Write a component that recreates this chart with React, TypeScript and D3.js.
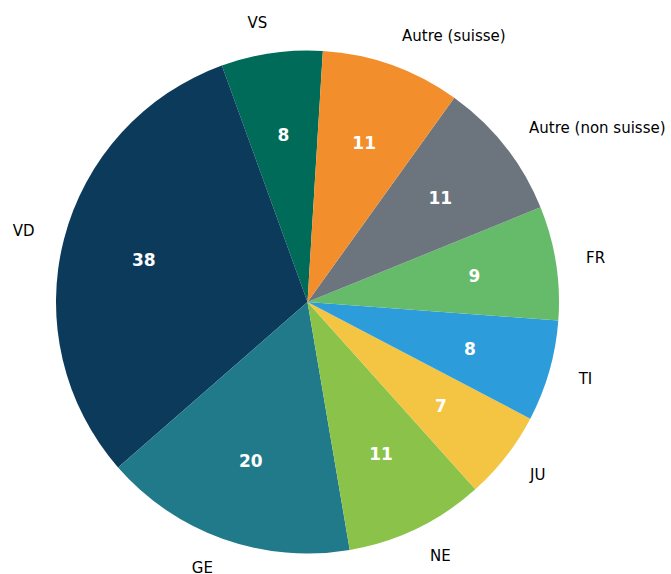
import React from "react";
import * as d3 from "d3";

const categories = ["VS", "VD", "GE", "NE", "JU", "TI", "FR", "Autre (non suisse)", "Autre (suisse)"];
const values = [8, 38, 20, 11, 7, 8, 9, 11, 11];
const colors = ["#016b59", "#0c3a5b", "#207a8a", "#8bc34a", "#f4c542", "#2d9cdb", "#66bb6a", "#6c757d", "#f28e2b"];

const W = 671;
const H = 574;
const cx = 307.5;
const cy = 302;
const R = 251.5;
const labelR = 282;
const numR = 169;
const startDeg = 3.5;
const numSize = 17;
const labelSize = 15;

export default function App() {
  const data = categories.map((c, i) => ({ c, v: values[i], col: colors[i] }));
  const start = (startDeg * Math.PI) / 180;
  const pie = d3
    .pie<any>()
    .value((d: any) => d.v)
    .sort(null)
    .startAngle(start)
    .endAngle(start - 2 * Math.PI);
  const arcs = pie(data);
  const arc = d3.arc<any>().innerRadius(0).outerRadius(R);
  const font = "'DejaVu Sans', sans-serif";
  return (
    <svg width={W} height={H} style={{ position: "absolute", left: 0, top: 0 }}>
      <rect width={W} height={H} fill="#fff" />
      <g transform={`translate(${cx},${cy})`}>
        {arcs.map((a: any, i: number) => (
          <path key={i} d={arc(a) as string} fill={a.data.col} />
        ))}
        {arcs.map((a: any, i: number) => {
          const m = (a.startAngle + a.endAngle) / 2;
          const x = numR * Math.sin(m);
          const y = -numR * Math.cos(m);
          return (
            <text
              key={"n" + i}
              x={x}
              y={y + 0.36 * numSize}
              textAnchor="middle"
              fontFamily={font}
              fontWeight="bold"
              fontSize={numSize}
              fill="#fff"
            >
              {a.data.v}
            </text>
          );
        })}
        {arcs.map((a: any, i: number) => {
          const m = (a.startAngle + a.endAngle) / 2;
          const x = labelR * Math.sin(m);
          const y = -labelR * Math.cos(m);
          return (
            <text
              key={"l" + i}
              x={x}
              y={y + 0.33 * labelSize}
              textAnchor={x < 0 ? "end" : "start"}
              fontFamily={font}
              fontSize={labelSize}
              fill="#000"
            >
              {a.data.c}
            </text>
          );
        })}
      </g>
    </svg>
  );
}
